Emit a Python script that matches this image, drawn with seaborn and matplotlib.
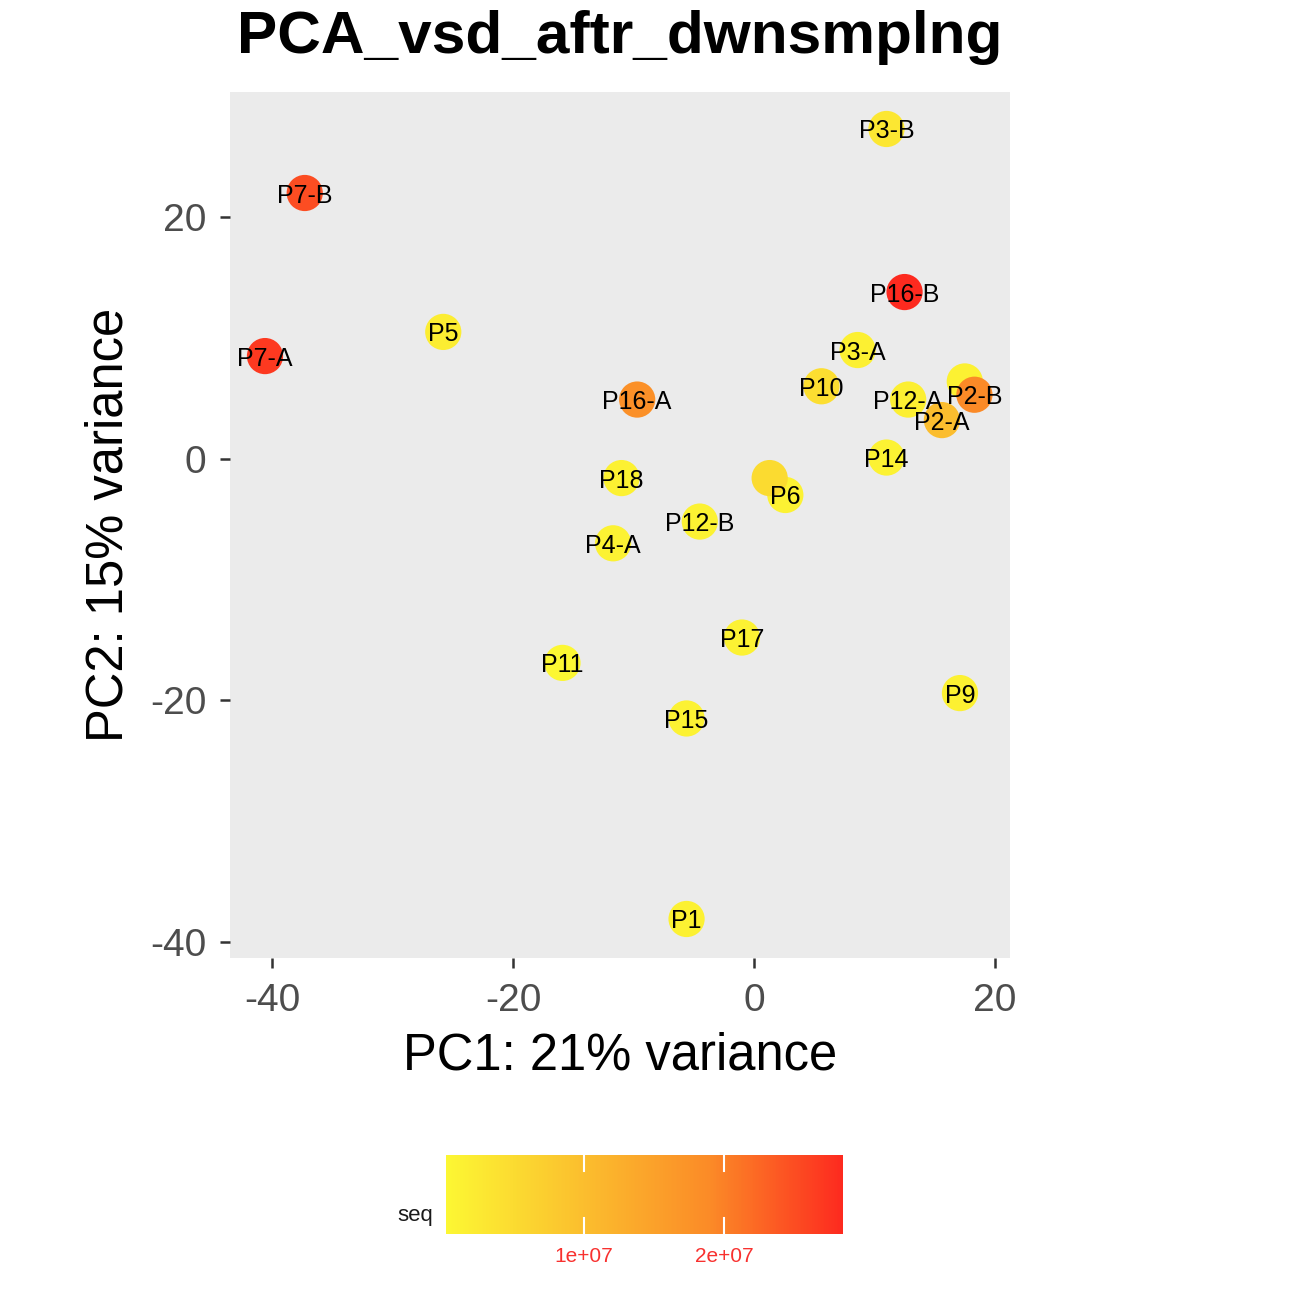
import matplotlib
matplotlib.use("Agg")
import matplotlib.pyplot as plt
import numpy as np
import pandas as pd
import seaborn as sns
from matplotlib.colors import LinearSegmentedColormap, Normalize
from matplotlib.cm import ScalarMappable

# sample names ("" = label dropped because it overlapped another one)
samples = ["P1", "P2-A", "P12-A", "", "P2-B", "P3-A", "P3-B", "P4-A", "P5",
           "P6", "", "P7-A", "P7-B", "P9", "P10", "P11", "P12-B", "P14",
           "P15", "P16-A", "P16-B", "P17", "P18"]
pc1 = [-5.6, 15.6, 12.8, 17.5, 18.3, 8.6, 11.0, -11.7, -25.8,
       2.6, 1.3, -40.6, -37.3, 17.1, 5.6, -15.9, -4.5, 11.0,
       -5.6, -9.7, 12.5, -1.0, -11.0]
pc2 = [-38.1, 3.2, 4.9, 6.4, 5.3, 9.0, 27.3, -7.0, 10.5,
       -3.0, -1.6, 8.5, 22.0, -19.4, 6.0, -16.9, -5.2, 0.1,
       -21.5, 4.9, 13.8, -14.8, -1.6]
seq = [1.2e6, 1.0e7, 1.5e6, 1.3e6, 1.9e7, 1.4e6, 3.0e6, 1.1e6, 2.0e6,
       1.0e6, 5.0e6, 2.7e7, 2.5e7, 1.2e6, 4.5e6, 0.14e6, 1.1e6, 1.0e6,
       1.0e6, 1.8e7, 2.85e7, 1.0e6, 1.2e6]

vmin, vmax = 0.14e6, 2.85e7

df = pd.DataFrame({"name": samples, "PC1": pc1, "PC2": pc2, "seq": seq})

cmap = LinearSegmentedColormap.from_list(
    "yr", ["#FCF733", "#FBC02E", "#FB8A27", "#FD2A1F"])
norm = Normalize(vmin=vmin, vmax=vmax)

plt.rcParams["font.family"] = ["Liberation Sans", "DejaVu Sans"]
plt.rcParams["axes.unicode_minus"] = False

fig = plt.figure(figsize=(13.02, 12.96), dpi=100)
ax = fig.add_axes([0.1767, 0.2608, 0.599, 0.6682])
ax.set_facecolor("#EBEBEB")

sns.scatterplot(data=df, x="PC1", y="PC2", hue="seq", palette=cmap,
                hue_norm=norm, s=680, linewidth=0, legend=False, ax=ax)

for _, row in df.iterrows():
    if row["name"]:
        ax.text(row["PC1"], row["PC2"], row["name"], ha="center",
                va="center_baseline", fontsize=18, color="black")

ax.set_xlim(-43.5, 21.25)
ax.set_ylim(-41.33, 30.36)
ax.set_xticks([-40, -20, 0, 20])
ax.set_yticks([-40, -20, 0, 20])
for s in ax.spines.values():
    s.set_visible(False)
ax.tick_params(axis="both", length=7, width=1.8, color="#333333",
               labelsize=28, labelcolor="#4D4D4D", pad=10)
ax.tick_params(axis="x", pad=11)
ax.set_xlabel("PC1: 21% variance", fontsize=36.5, labelpad=9)
ax.set_ylabel("PC2: 15% variance", fontsize=36.5, labelpad=12)
ax.set_title("PCA_vsd_aftr_dwnsmplng", fontsize=43.5, fontweight="bold", pad=28)

# colour bar legend
cax = fig.add_axes([0.3426, 0.0478, 0.3049, 0.061])
sm = ScalarMappable(norm=norm, cmap=cmap)
cb = fig.colorbar(sm, cax=cax, orientation="horizontal")
cb.outline.set_visible(False)
cb.set_ticks([1e7, 2e7])
cb.set_ticklabels(["1e+07", "2e+07"])
cax.tick_params(length=0, labelsize=15, labelcolor="#F8312F", pad=9)
for t in [1e7, 2e7]:
    cax.axvline(t, ymin=0, ymax=0.2, color="white", lw=1.5)
    cax.axvline(t, ymin=0.8, ymax=1, color="white", lw=1.5)
fig.text(415 / 1302, 1 - 1215 / 1296, "seq", ha="center", va="center",
         fontsize=16, color="#1A1A1A")

fig.savefig("out.png", dpi=100, facecolor="white")
